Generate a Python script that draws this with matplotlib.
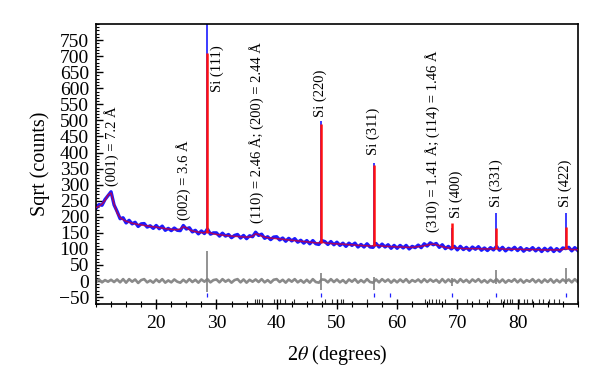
# XRD Rietveld-style plot: observed (blue), calculated (red), difference (grey)
import numpy as np
import matplotlib
matplotlib.use("Agg")
import matplotlib.pyplot as plt
from matplotlib.ticker import MultipleLocator

plt.rcParams["font.family"] = ["Liberation Serif", "DejaVu Serif"]
plt.rcParams["mathtext.fontset"] = "stix"

# === Data ===
two_theta = np.arange(10.0, 90.01, 0.5)

calc_bg = [
    229, 233, 240, 251, 268, 274, 240, 212, 198, 191,
    186, 183, 180, 178, 176, 175, 173, 172, 170, 169,
    168, 166, 165, 163, 162, 161, 160, 160, 162, 169,
    166, 160, 156, 154, 152, 151, 150, 156, 150, 147,
    145, 144, 143, 142, 141, 140, 139, 139, 138, 137,
    137, 137, 140, 147, 145, 140, 137, 135, 134, 133,
    132, 131, 130, 129, 128, 127, 126, 125, 124, 123,
    122, 121, 120, 119, 119, 121, 119, 118, 117, 116,
    116, 115, 115, 114, 113, 113, 112, 111, 111, 110,
    110, 109, 110, 112, 110, 109, 108, 108, 107, 107,
    106, 106, 106, 105, 105, 105, 106, 107, 108, 110,
    112, 114, 115, 113, 110, 107, 105, 103, 103, 104,
    102, 102, 101, 101, 101, 101, 101, 101, 100, 100,
    100, 100, 100, 102, 100, 100, 99, 99, 99, 99,
    99, 99, 98, 98, 98, 98, 98, 98, 97, 97,
    97, 97, 97, 97, 97, 98, 103, 100, 98, 98,
    98,
]

obs_bg = [
    226, 238, 236, 254, 266, 278, 237, 217, 194, 197,
    181, 189, 178, 183, 170, 178, 179, 168, 172, 164,
    173, 163, 171, 158, 164, 157, 165, 158, 157, 173,
    162, 166, 153, 158, 147, 156, 148, 162, 146, 150,
    150, 140, 149, 140, 145, 135, 142, 145, 134, 142,
    132, 141, 138, 152, 142, 146, 133, 138, 129, 137,
    138, 128, 134, 124, 133, 125, 132, 121, 127, 118,
    126, 116, 126, 116, 114, 126, 123, 114, 123, 113,
    121, 111, 118, 108, 118, 111, 118, 106, 114, 106,
    116, 106, 105, 117, 106, 115, 106, 113, 102, 111,
    102, 111, 103, 111, 100, 108, 104, 112, 104, 116,
    109, 119, 113, 117, 105, 113, 101, 108, 100, 108,
    97, 108, 98, 105, 96, 106, 99, 107, 96, 103,
    95, 104, 97, 108, 96, 105, 94, 102, 97, 105,
    95, 104, 93, 101, 96, 104, 94, 102, 92, 102,
    94, 103, 92, 101, 93, 103, 101, 105, 94, 104,
    95,
]

# Sharp Si reflections
si_pos = [28.44, 47.30, 56.12, 69.13, 76.38, 88.03]
si_base = [150, 119, 110, 103, 101, 100]
si_obs = [820, 497, 367, 165, 211, 212]
si_calc = [709, 490, 362, 180, 165, 168]
si_diff_hi = [95, 25, 12, 10, 35, 42]
si_diff_lo = [-35, -28, -28, -15, -8, -8]

# Bragg reflection markers
si_ticks = [28.44, 47.30, 56.12, 58.86, 69.13, 76.38, 88.03]
phase_ticks = [36.4, 36.8, 37.1, 37.5, 39.6, 40.5, 41.4, 42.9, 45.9, 48.1,
               49.2, 50.6, 51.0, 55.0, 64.7, 65.3, 65.8, 66.4, 66.9, 68.0,
               71.6, 73.6, 75.2, 77.3, 77.7, 78.3, 78.8, 79.1, 80.2, 81.0,
               81.6, 82.4, 83.6, 84.3, 85.2, 86.0, 86.8]

# Annotations: (2theta, y of text bottom, label)
ann_x = [12.5, 24.6, 30.1, 36.6, 47.2, 56.0, 65.8, 69.8, 76.4, 88.0]
ann_y = [295, 190, 588, 180, 510, 392, 152, 196, 230, 230]
ann_text = [
    "(001) = 7.2 Å",
    "(002) = 3.6 Å",
    "Si (111)",
    "(110) = 2.46 Å; (200) = 2.44 Å",
    "Si (220)",
    "Si (311)",
    "(310) = 1.41 Å; (114) = 1.46 Å",
    "Si (400)",
    "Si (331)",
    "Si (422)",
]

assert len(calc_bg) == len(two_theta) == len(obs_bg)
diff = np.array(obs_bg) - np.array(calc_bg)

# === Plot ===
fig = plt.figure(figsize=(6, 3.88), dpi=100)
ax = fig.add_axes([0.16, 0.216, 0.803, 0.722])

ax.plot(two_theta, obs_bg, color="#1a1aff", lw=2.4, zorder=2)
ax.vlines(si_pos, si_base, si_obs, color="#1a1aff", lw=1.2, zorder=2)
ax.plot(two_theta, calc_bg, color="#c8003c", lw=1.1, zorder=3, alpha=0.8)
ax.vlines(si_pos, si_base, si_calc, color="#ff1010", lw=1.8, zorder=3)

ax.plot(two_theta, diff, color="#8a8a8a", lw=1.9, zorder=2)
ax.vlines(si_pos, si_diff_lo, si_diff_hi, color="#808080", lw=1.2, zorder=2)

ax.vlines(si_ticks, -50, -38, color="#2020ff", lw=0.9)
ax.vlines(phase_ticks, -70, -57, color="#303030", lw=0.8)

for x, y, t in zip(ann_x, ann_y, ann_text):
    ax.text(x, y, t, rotation=90, ha="center", va="bottom", fontsize=10.5)

ax.set_xlim(10, 90)
ax.set_ylim(-72, 800)
ax.set_yticks(np.arange(-50, 751, 50))
ax.set_xticks([20, 30, 40, 50, 60, 70, 80])
ax.xaxis.set_minor_locator(MultipleLocator(2.5))
ax.yaxis.set_minor_locator(MultipleLocator(10))

ax.tick_params(axis="y", which="both", direction="in", right=False, labelsize=14, pad=5)
ax.tick_params(axis="y", which="major", length=5, width=1)
ax.tick_params(axis="y", which="minor", length=2.5, width=0.8)
ax.tick_params(axis="x", which="both", direction="inout", top=False, labelsize=14, pad=4)
ax.tick_params(axis="x", which="major", length=7, width=1)
ax.tick_params(axis="x", which="minor", length=5, width=0.8)
for s in ax.spines.values():
    s.set_linewidth(1.2)

ax.set_xlabel(r"2$\theta$ (degrees)", fontsize=14.5, labelpad=8)
ax.set_ylabel("Sqrt (counts)", fontsize=14.5, labelpad=6)

fig.savefig("out.png", dpi=100)
